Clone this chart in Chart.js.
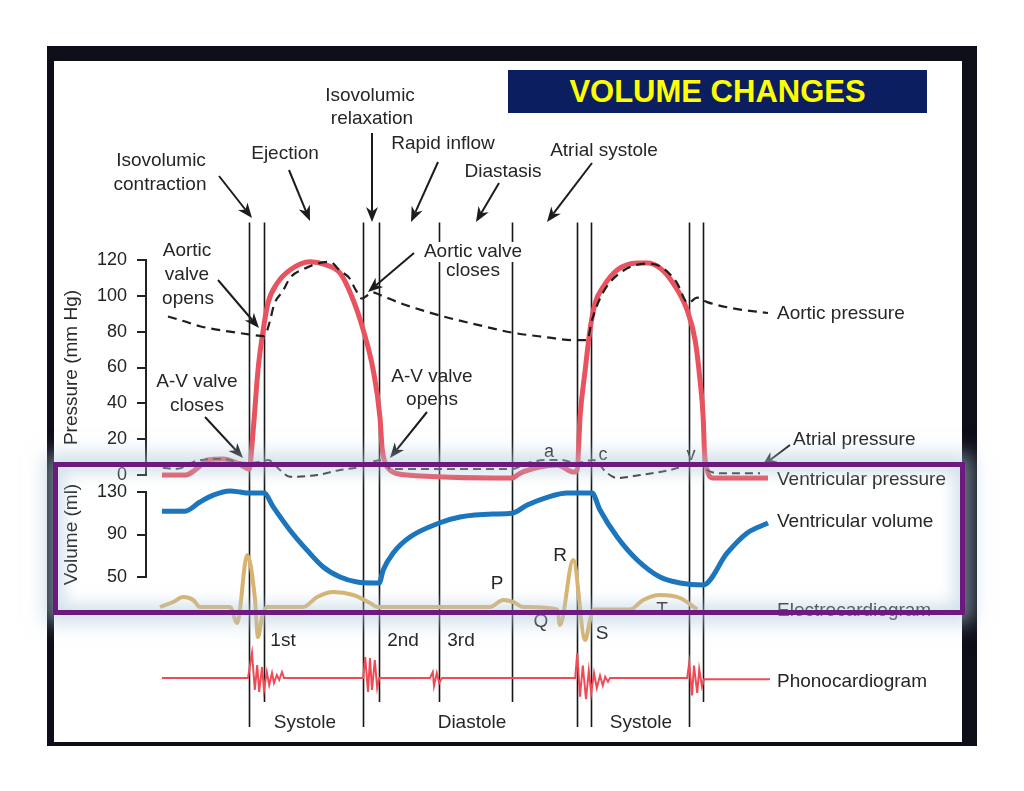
<!DOCTYPE html>
<html>
<head>
<meta charset="utf-8">
<title>Volume changes</title>
<script src="https://cdn.jsdelivr.net/npm/chart.js@4.4.1/dist/chart.umd.min.js"></script>
<style>
  html, body { margin: 0; padding: 0; background: #fff; width: 1024px; height: 791px; overflow: hidden; }
  #frame { position: absolute; left: 47px; top: 46px; width: 930px; height: 700px; background: #0e0e18; }
  #paper { position: absolute; left: 54px; top: 61px; width: 908px; height: 681px; background: #fff; }
  #holder { position: absolute; left: 0; top: 0; width: 1024px; height: 791px; }
  #title { position: absolute; left: 508px; top: 70px; width: 419px; height: 43px; background: #0b1f60;
           color: #ffff00; font: bold 31px 'Liberation Sans', Arial, sans-serif; text-align: center; line-height: 44px; }
  #highlight { position: absolute; left: 53px; top: 462px; width: 912px; height: 153px; box-sizing: border-box;
               border: 5px solid #6c1a7d;
               box-shadow: 0 0 18px 8px rgba(175,200,218,0.6), inset 0 0 16px 6px rgba(175,200,218,0.55); }
</style>
</head>
<body>
<div id="frame"></div>
<div id="paper"></div>
<div id="holder"><canvas id="canvas" width="1024" height="791"></canvas></div>
<div id="title">VOLUME CHANGES</div>
<div id="highlight"></div>

<script>
// time in ms along one and a half cardiac cycles

// event lines (valve openings / closings, phase limits)
var eventTimes = [258, 295, 543, 583, 733, 915, 1078, 1113, 1358, 1393];
var eventLong  = [true, false, true, false, false, false, true, true, true, false];

// aortic pressure (mm Hg)
var aorticT = [55, 100, 135, 210, 258, 295, 310, 320, 343, 360, 395, 428, 460, 485, 508, 525, 540, 555, 567, 585, 635, 735, 835, 915, 998, 1068, 1103, 1115, 1143, 1193, 1253, 1285, 1310, 1328, 1355, 1378, 1403, 1468, 1555];
var aorticP = [88.5, 85.5, 83, 80, 78.5, 77.5, 86, 95, 103, 110, 115, 118, 119, 114, 110, 103, 98.5, 100.5, 102, 100.5, 96, 89, 83.5, 79.5, 77, 75.3, 75.3, 86.5, 102, 114, 118, 116.5, 112, 107, 96, 99, 96.5, 93, 90.4];

// ventricular pressure (mm Hg)
var ventT = [40, 98, 135, 153, 193, 228, 258, 268, 280, 293, 305, 328, 360, 410, 447, 485, 518, 543, 568, 585, 590, 598, 610, 653, 915, 935, 985, 1028, 1068, 1078, 1085, 1098, 1110, 1123, 1143, 1178, 1228, 1253, 1285, 1318, 1353, 1373, 1385, 1393, 1396, 1403, 1418, 1555];
var ventP = [0, 0, 5, 8.4, 9, 6.7, 3.4, 25, 58.6, 81, 96, 107, 114.4, 119, 117.5, 112.7, 97.7, 81, 58.6, 32, 15.6, 6.7, 2.8, 0, -1.7, 1, 4.5, 5.6, 1.7, 2.8, 32, 58.6, 81, 96, 105, 114.4, 118.3, 118.3, 115.5, 107, 92, 75, 53, 32, 14, 2.8, -1.7, -1.7];

// atrial pressure (mm Hg)
var atrialT = [42, 78, 128, 193, 228, 258, 285, 305, 335, 360, 428, 485, 535, 568, 590, 610, 653, 915, 953, 1003, 1035, 1078, 1118, 1153, 1178, 1235, 1310, 1355, 1385, 1403, 1435, 1535];
var atrialP = [4, 3.5, 8, 9, 7.3, 6.7, 7.3, 8.4, 2.8, -1, 0, 2.8, 4.5, 7.5, 8.4, 3.5, 3.3, 3.3, 6.7, 8.4, 8.4, 6.7, 8.4, 1, -1.7, 0, 2.8, 5.6, 6.7, 2.8, 1, 1];

// ventricular volume (ml)
var volT  = [40, 98, 135, 168, 210, 235, 255, 295, 318, 360, 403, 443, 485, 528, 568, 583, 593, 618, 660, 733, 785, 868, 915, 953, 1003, 1053, 1115, 1135, 1178, 1228, 1285, 1335, 1393, 1453, 1503, 1555];
var volML = [112, 112, 120.6, 127, 131, 130, 129, 129, 116, 94, 75, 59.4, 50, 45.3, 44.4, 44.4, 56.6, 72.6, 87.6, 100.8, 106.5, 109.3, 110, 117.8, 125, 129, 129, 113, 87.6, 66, 50, 44.4, 42.5, 72.6, 91.4, 100.8];

// electrocardiogram (mV)
var ecgT  = [35, 68, 93, 118, 135, 210, 228, 253, 272, 280, 290, 303, 393, 428, 468, 518, 560, 578, 860, 893, 918, 943, 1028, 1035, 1068, 1098, 1110, 1120, 1210, 1243, 1285, 1335, 1378];
var ecgMV = [0, 0.1, 0.2, 0.14, 0, 0, -0.32, 1.04, 0.2, -0.6, -0.2, 0, 0, 0.2, 0.3, 0.24, 0.08, 0, 0, 0.14, 0.1, 0, -0.05, -0.36, 0.94, -0.66, -0.26, -0.05, -0.05, 0.14, 0.24, 0.18, -0.05];

// phonocardiogram (relative amplitude)
var phonoT   = [40, 255, 265, 272, 278, 283, 290, 295, 302, 308, 315, 320, 327, 333, 340, 345, 543, 548, 555, 560, 565, 572, 578, 583, 710, 717, 720, 727, 733, 740, 1073, 1078, 1085, 1092, 1100, 1107, 1113, 1120, 1127, 1135, 1142, 1148, 1155, 1160, 1353, 1358, 1365, 1370, 1378, 1383, 1390, 1395, 1560];
var phonoAmp = [0, 0, 1.0, -0.48, 0.52, -0.56, 0.44, -0.48, 0.24, -0.28, 0.2, -0.2, 0.12, -0.08, 0.24, 0, 0, 0.84, -0.56, 0.8, -0.48, 0.72, -0.4, 0, 0, 0.24, -0.32, 0.2, -0.2, 0, 0, 1.0, -0.75, 0.5, -0.85, 0.3, -0.6, 0.2, -0.4, 0.1, -0.3, 0.05, -0.15, 0, 0, 0.6, -0.7, 0.5, -0.6, 0.35, -0.35, -0.05, -0.05];

// text callouts and arrows of the diagram (canvas pixels)
var callouts = {
    labels: [
        ['Isovolumic', 370, 96, 'center'], ['relaxation', 372, 119, 'center'],
        ['Rapid inflow', 443, 144, 'center'],
        ['Ejection', 285, 154, 'center'],
        ['Isovolumic', 161, 161, 'center'], ['contraction', 160, 185, 'center'],
        ['Atrial systole', 604, 151, 'center'],
        ['Diastasis', 503, 172, 'center'],
        ['Aortic', 187, 251, 'center'], ['valve', 187, 275, 'center'], ['opens', 188, 299, 'center'],
        ['Aortic valve', 473, 252, 'center', true], ['closes', 473, 271, 'center'],
        ['A-V valve', 197, 382, 'center'], ['closes', 197, 406, 'center'],
        ['A-V valve', 432, 377, 'center'], ['opens', 432, 400, 'center'],
        ['Aortic pressure', 777, 314, 'left'],
        ['Atrial pressure', 793, 440, 'left'],
        ['Ventricular pressure', 777, 480, 'left'],
        ['Ventricular volume', 777, 522, 'left'],
        ['Electrocardiogram', 777, 611, 'left'],
        ['Phonocardiogram', 777, 682, 'left'],
        ['P', 497, 584, 'center'], ['R', 560, 556, 'center'], ['Q', 541, 622, 'center'],
        ['S', 602, 634, 'center'], ['T', 662, 610, 'center'],
        ['1st', 283, 641, 'center'], ['2nd', 403, 641, 'center'], ['3rd', 461, 641, 'center'],
        ['Systole', 305, 723, 'center'], ['Diastole', 472, 723, 'center'], ['Systole', 641, 723, 'center']
    ],
    small: [['a', 549, 452], ['c', 603, 455], ['v', 691, 455]],
    arrows: [
        [219, 176, 252, 218], [289, 170, 310, 221], [372, 133, 372, 222],
        [438, 162, 411, 222], [499, 183, 476, 222], [592, 163, 547, 222],
        [218, 280, 259, 328], [414, 253, 368, 292],
        [205, 417, 243, 458], [427, 412, 390, 458],
        [790, 445, 762, 466]
    ]
};

var FONT = "'Liberation Sans', Arial, sans-serif";
var lineTopP = 141;           // event lines start at this pressure level
var lineEndShort = -0.96, lineEndLong = -1.96;   // ...and end on the phono scale

function pts(xs, ys) {
    var out = [];
    for (var i = 0; i < xs.length; i++) out.push({x: xs[i], y: ys[i]});
    return out;
}

function drawArrow(ctx, x1, y1, x2, y2) {
    var a = Math.atan2(y2 - y1, x2 - x1), L = 15, W = 6;
    var bx = x2 - L * Math.cos(a), by = y2 - L * Math.sin(a);
    var nx = x2 - 0.7 * L * Math.cos(a), ny = y2 - 0.7 * L * Math.sin(a);
    ctx.beginPath();
    ctx.moveTo(x1, y1);
    ctx.lineTo(nx, ny);
    ctx.stroke();
    ctx.beginPath();
    ctx.moveTo(x2, y2);
    ctx.lineTo(bx + W * Math.sin(a), by - W * Math.cos(a));
    ctx.lineTo(nx, ny);
    ctx.lineTo(bx - W * Math.sin(a), by + W * Math.cos(a));
    ctx.closePath();
    ctx.fill();
}

var wiggersPlugin = {
    id: 'wiggers',
    beforeDatasetsDraw: function(chart) {
        var ctx = chart.ctx, xs = chart.scales.x, yP = chart.scales.yP, yPh = chart.scales.yPh;
        ctx.save();
        ctx.strokeStyle = '#161616';
        ctx.lineWidth = 1.6;
        for (var i = 0; i < eventTimes.length; i++) {
            var x = Math.round(xs.getPixelForValue(eventTimes[i])) + 0.5;
            ctx.beginPath();
            ctx.moveTo(x, yP.getPixelForValue(lineTopP));
            ctx.lineTo(x, yPh.getPixelForValue(eventLong[i] ? lineEndLong : lineEndShort));
            ctx.stroke();
        }
        ctx.restore();
    },
    afterDatasetsDraw: function(chart) {
        var ctx = chart.ctx;
        ctx.save();
        ctx.textBaseline = 'middle';
        ctx.font = '19px ' + FONT;
        callouts.labels.forEach(function(l) {
            ctx.textAlign = l[3];
            if (l[4]) {
                var w = ctx.measureText(l[0]).width;
                ctx.fillStyle = '#fff';
                ctx.fillRect(l[1] - w / 2 - 3, l[2] - 10, w + 6, 20);
            }
            ctx.fillStyle = '#262626';
            ctx.fillText(l[0], l[1], l[2]);
        });
        ctx.font = '18px ' + FONT;
        ctx.textAlign = 'center';
        callouts.small.forEach(function(l) { ctx.fillText(l[0], l[1], l[2]); });
        ctx.strokeStyle = '#1c1c1c';
        ctx.fillStyle = '#1c1c1c';
        ctx.lineWidth = 2;
        callouts.arrows.forEach(function(a) { drawArrow(ctx, a[0], a[1], a[2], a[3]); });
        ctx.restore();
    }
};

function hiddenAxis(weight, stackWeight, min, max) {
    return {
        type: 'linear', position: 'left', stack: 'panels', weight: weight, stackWeight: stackWeight,
        min: min, max: max,
        ticks: {display: false}, grid: {display: false}, border: {display: false},
        afterFit: function(s) { s.width = 96; }
    };
}

function shownAxis(weight, stackWeight, min, max, step, title) {
    return {
        type: 'linear', position: 'left', stack: 'panels', weight: weight, stackWeight: stackWeight,
        min: min, max: max,
        ticks: {stepSize: step, autoSkip: false, padding: 10, color: '#222', font: {family: FONT, size: 18}},
        grid: {drawOnChartArea: false, tickLength: 9, color: '#222', lineWidth: 2},
        border: {display: true, color: '#222', width: 2},
        title: {display: true, text: title, color: '#2a2a2a', font: {family: FONT, size: 19}, padding: {top: 10, bottom: 0}},
        afterFit: function(s) { s.width = 96; }
    };
}

var lineBase = {pointRadius: 0, cubicInterpolationMode: 'monotone', tension: 0.4, fill: false, clip: false};

new Chart(document.getElementById('canvas').getContext('2d'), {
    type: 'line',
    data: {
        datasets: [
            Object.assign({label: 'Aortic pressure', yAxisID: 'yP', data: pts(aorticT, aorticP),
                borderColor: '#1e1e1e', borderWidth: 2.2, borderDash: [9, 6]}, lineBase),
            Object.assign({label: 'Atrial pressure', yAxisID: 'yP', data: pts(atrialT, atrialP),
                borderColor: '#333', borderWidth: 2, borderDash: [8, 5]}, lineBase),
            Object.assign({label: 'Ventricular pressure', yAxisID: 'yP', data: pts(ventT, ventP),
                borderColor: '#e9535f', borderWidth: 5}, lineBase),
            Object.assign({label: 'Ventricular volume', yAxisID: 'yV', data: pts(volT, volML),
                borderColor: '#1b76bd', borderWidth: 5}, lineBase),
            Object.assign({label: 'Electrocardiogram', yAxisID: 'yE', data: pts(ecgT, ecgMV),
                borderColor: '#d8b46e', borderWidth: 4}, lineBase),
            {label: 'Phonocardiogram', yAxisID: 'yPh', data: pts(phonoT, phonoAmp),
                borderColor: '#ee4b56', borderWidth: 2, pointRadius: 0, tension: 0, fill: false, clip: false}
        ]
    },
    options: {
        responsive: false,
        animation: false,
        devicePixelRatio: 1,
        layout: {padding: {left: 50, top: 200, right: 64, bottom: 51}},
        plugins: {legend: {display: false}, tooltip: {enabled: false}},
        scales: {
            x: {type: 'linear', min: 0, max: 2035, display: false},
            yTop: hiddenAxis(6, 60, 0, 1),
            yP: shownAxis(5, 215, 0, 120, 20, 'Pressure (mm Hg)'),
            yGap: hiddenAxis(4, 17, 0, 1),
            yV: shownAxis(3, 85, 50, 130, 40, 'Volume (ml)'),
            yE: hiddenAxis(2, 63, -0.66, 0.6),
            yPh: hiddenAxis(1, 100, -2.48, 1.52)
        }
    },
    plugins: [wiggersPlugin]
});
</script>
</body>
</html>
